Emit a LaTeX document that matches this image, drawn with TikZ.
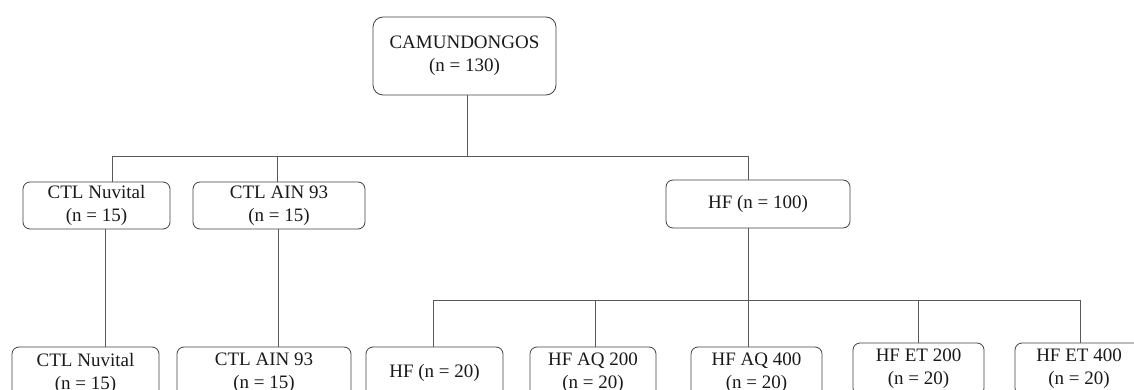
\documentclass[tikz,border=0pt]{standalone}
\usepackage{fontspec}
\setmainfont{Liberation Serif}
\begin{document}
\begin{tikzpicture}[x=1pt,y=-1pt,
  box/.style={draw=black!75, line width=0.8pt, rounded corners=7pt, align=center,
    font=\fontsize{19}{23}\selectfont, inner sep=0pt, text=black!90},
  conn/.style={draw=black!65, line width=0.8pt}]
\useasboundingbox (0,0) rectangle (1134,390);
\clip (0,0) rectangle (1134,390);
% nodes
\node[box, minimum width=183pt, minimum height=78pt, rounded corners=10pt] (top) at (464.5,56) {CAMUNDONGOS\\(n = 130)};
\node[box, minimum width=147pt, minimum height=47pt] (n1) at (96.5,205.5) {CTL Nuvital\\(n = 15)};
\node[box, minimum width=172pt, minimum height=47pt] (n2) at (279,205.5) {CTL AIN 93\\(n = 15)};
\node[box, minimum width=184pt, minimum height=48pt] (hf) at (758,204) {HF (n = 100)};
\node[box, minimum width=147pt, minimum height=52pt] (m1) at (85.5,373) {CTL Nuvital\\(n = 15)};
\node[box, minimum width=174pt, minimum height=52pt] (m2) at (264,373) {CTL AIN 93\\(n = 15)};
\node[box, minimum width=137pt, minimum height=52pt] (h1) at (434.5,373) {HF (n = 20)};
\node[box, minimum width=126pt, minimum height=52pt] (h2) at (593,373) {HF AQ 200\\(n = 20)};
\node[box, minimum width=131pt, minimum height=52pt] (h3) at (756.5,373) {HF AQ 400\\(n = 20)};
\node[box, minimum width=131pt, minimum height=52pt] (h4) at (918.5,369) {HF ET 200\\(n = 20)};
\node[box, minimum width=128pt, minimum height=52pt] (h5) at (1079,369) {HF ET 400\\(n = 20)};
% level 1 bus
\coordinate (b1) at (467,156);
\coordinate (d1) at (112,156);
\coordinate (d2) at (277,156);
\coordinate (d3) at (748,156);
\draw[conn] (top.south -| b1) -- (b1);
\draw[conn] (d1) -- (d3);
\draw[conn] (n1.north -| d1) -- (d1);
\draw[conn] (n2.north -| d2) -- (d2);
\draw[conn] (hf.north -| d3) -- (d3);
% CTL verticals
\coordinate (c1) at (105,300);
\coordinate (c2) at (278,300);
\draw[conn] (n1.south -| c1) -- (m1.north -| c1);
\draw[conn] (n2.south -| c2) -- (m2.north -| c2);
% level 2 bus
\coordinate (e1) at (433,300);
\coordinate (e2) at (595,300);
\coordinate (e3) at (748,300);
\coordinate (e4) at (918,300);
\coordinate (e5) at (1080,300);
\draw[conn] (hf.south -| e3) -- (h3.north -| e3);
\draw[conn] (e1) -- (e5);
\draw[conn] (h1.north -| e1) -- (e1);
\draw[conn] (h2.north -| e2) -- (e2);
\draw[conn] (h4.north -| e4) -- (e4);
\draw[conn] (h5.north -| e5) -- (e5);
\end{tikzpicture}
\end{document}
